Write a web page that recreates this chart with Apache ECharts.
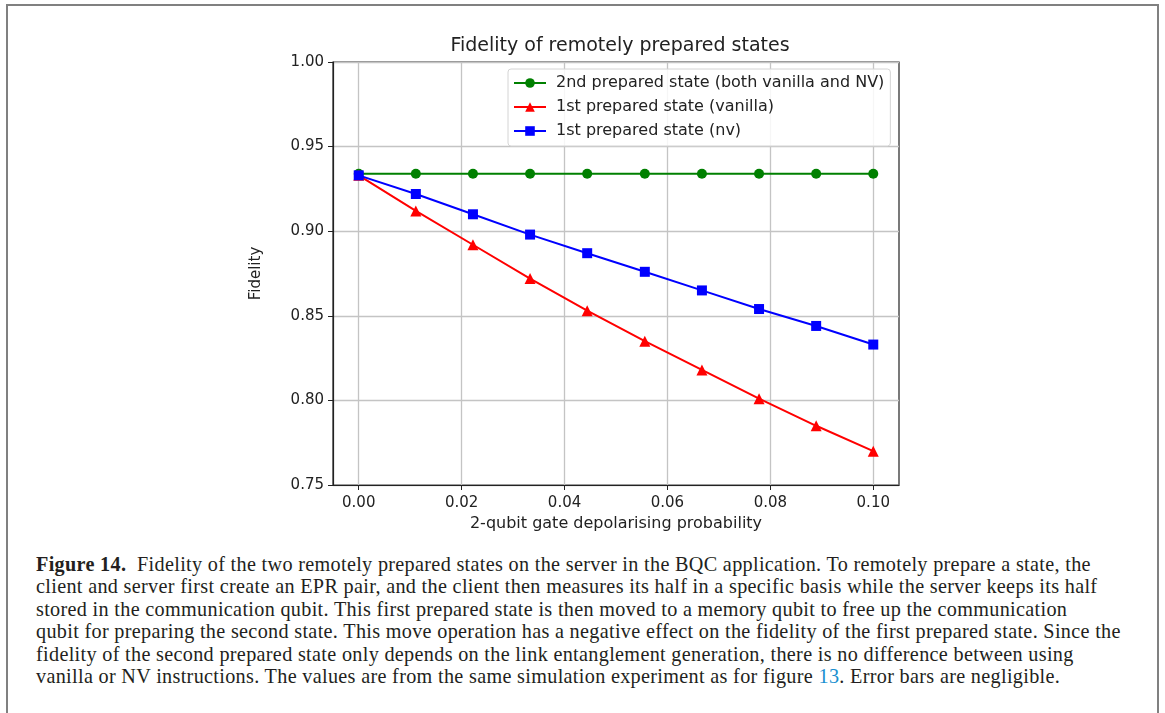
<!DOCTYPE html>
<html>
<head>
<meta charset="utf-8">
<script src="https://cdn.jsdelivr.net/npm/echarts@6/dist/echarts.min.js"></script>
<style>
  html, body { margin: 0; padding: 0; background: #fff; }
  #page { position: relative; width: 1165px; height: 713px; overflow: hidden; }
  #frame {
    position: absolute; left: 6px; top: 4px; width: 1153px; height: 760px;
    border: 2px solid #808080; box-sizing: border-box;
  }
  #chart { position: absolute; left: 0; top: 0; width: 1165px; height: 540px; }
  #caption {
    position: absolute; left: 36px; top: 553px; width: 1115px;
    font-family: "Liberation Serif", "DejaVu Serif", serif;
    font-size: 20.2px; letter-spacing: 0.32px; line-height: 22.4px;
    color: #231f20; white-space: nowrap;
  }
  #caption b { font-weight: bold; }
  #caption .ref { color: #1a8fd0; }
</style>
</head>
<body>
<div id="page">
  <div id="frame"></div>
  <div id="chart"></div>
  <div id="caption">
    <b>Figure 14.</b>&nbsp;&nbsp;Fidelity of the two remotely prepared states on the server in the BQC application. To remotely prepare a state, the<br>
    client and server first create an EPR pair, and the client then measures its half in a specific basis while the server keeps its half<br>
    stored in the communication qubit. This first prepared state is then moved to a memory qubit to free up the communication<br>
    qubit for preparing the second state. This move operation has a negative effect on the fidelity of the first prepared state. Since the<br>
    fidelity of the second prepared state only depends on the link entanglement generation, there is no difference between using<br>
    vanilla or NV instructions. The values are from the same simulation experiment as for figure <span class="ref">13</span>. Error bars are negligible.
  </div>
</div>
<script>
// depolarising probability (10 evenly spaced runs from 0 to 0.1)
const probs = [0, 0.0111, 0.0222, 0.0333, 0.0444, 0.0556, 0.0667, 0.0778, 0.0889, 0.1];
const secondState = [0.934, 0.934, 0.934, 0.934, 0.934, 0.934, 0.934, 0.934, 0.934, 0.934];
const firstVanilla = [0.933, 0.912, 0.892, 0.872, 0.853, 0.835, 0.818, 0.801, 0.785, 0.770];
const firstNv = [0.933, 0.922, 0.910, 0.898, 0.887, 0.876, 0.865, 0.854, 0.844, 0.833];
const xTicks = [0, 0.02, 0.04, 0.06, 0.08, 0.1];
const seriesNames = [
  '2nd prepared state (both vanilla and NV)',
  '1st prepared state (vanilla)',
  '1st prepared state (nv)'
];

const font = 'DejaVu Sans';
const pair = (ys) => probs.map((x, i) => [x, ys[i]]);

const chart = echarts.init(document.getElementById('chart'));

function lineSeries(name, ys, color, symbol, size) {
  return {
    name,
    type: 'line',
    data: pair(ys),
    symbol,
    symbolSize: size,
    showAllSymbol: true,
    lineStyle: { color, width: 2 },
    itemStyle: { color },
    emphasis: { disabled: true },
    animation: false
  };
}

chart.setOption({
  animation: false,
  title: {
    text: 'Fidelity of remotely prepared states',
    left: 615,
    top: 32,
    textAlign: 'center',
    textStyle: { fontFamily: font, fontSize: 19, fontWeight: 'normal', color: '#222' }
  },
  legend: {
    orient: 'vertical',
    left: 508,
    top: 69,
    itemWidth: 32,
    itemHeight: 12,
    itemGap: 8,
    padding: [6, 6, 7, 5],
    backgroundColor: 'rgba(255,255,255,0.85)',
    borderColor: '#d4d4d4',
    borderWidth: 1,
    borderRadius: 3,
    textStyle: { fontFamily: font, fontSize: 16, color: '#222', padding: [0, 0, 0, 5] },
    data: seriesNames
  },
  grid: {
    left: 333, right: 266, top: 62, bottom: 55,
    show: true, borderColor: '#222', borderWidth: 1.2
  },
  xAxis: {
    type: 'value',
    min: -0.005,
    max: 0.105,
    name: '2-qubit gate depolarising probability',
    nameLocation: 'middle',
    nameGap: 31,
    nameTextStyle: { fontFamily: font, fontSize: 16, color: '#222' },
    axisLine: { show: true, onZero: false, lineStyle: { color: '#222', width: 1.2 } },
    axisTick: { show: true, length: 5, customValues: xTicks, lineStyle: { color: '#222' } },
    axisLabel: {
      customValues: xTicks,
      fontFamily: font, fontSize: 15, color: '#222', margin: 11,
      formatter: (v) => v.toFixed(2)
    },
    splitLine: { show: true, lineStyle: { color: '#c4c4c4', width: 1.3 } }
  },
  yAxis: {
    type: 'value',
    min: 0.75,
    max: 1.0,
    interval: 0.05,
    name: 'Fidelity',
    nameLocation: 'middle',
    nameRotate: 90,
    nameGap: 69,
    nameTextStyle: { fontFamily: font, fontSize: 15, color: '#222' },
    axisLine: { show: true, onZero: false, lineStyle: { color: '#222', width: 1.2 } },
    axisTick: { show: true, length: 5, lineStyle: { color: '#222' } },
    axisLabel: {
      fontFamily: font, fontSize: 15, color: '#222', margin: 9,
      formatter: (v) => v.toFixed(2)
    },
    splitLine: { show: true, lineStyle: { color: '#c4c4c4', width: 1.3 } }
  },
  series: [
    lineSeries(seriesNames[0], secondState, '#008000', 'circle', 10),
    lineSeries(seriesNames[1], firstVanilla, '#ff0000', 'triangle', 11),
    lineSeries(seriesNames[2], firstNv, '#0000ff', 'rect', 10)
  ]
});
</script>
</body>
</html>
